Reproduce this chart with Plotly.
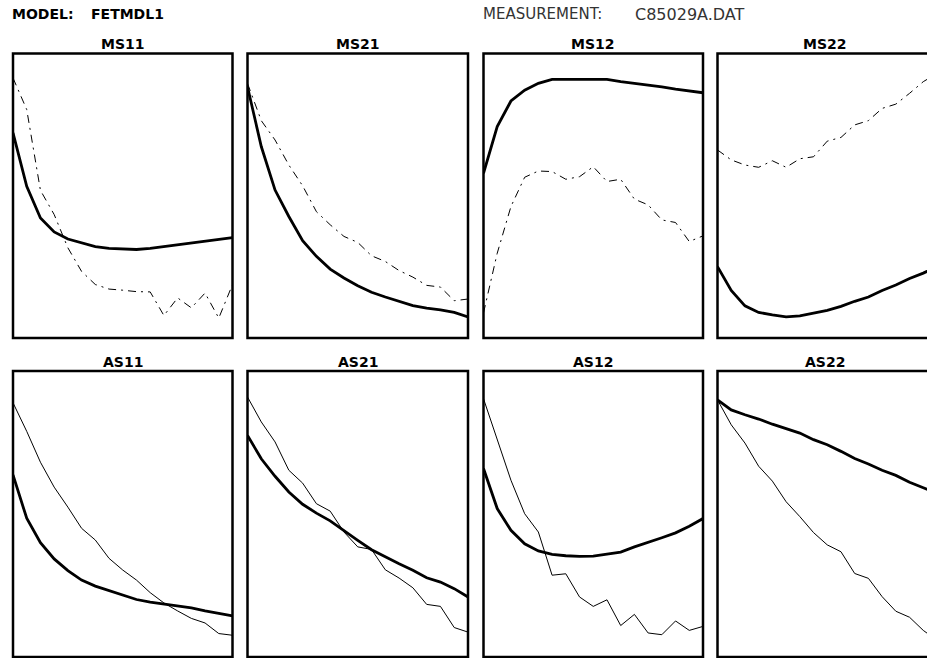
import plotly.graph_objects as go

# ---- data (frequency points, 2..18 GHz) ----
freq = [2, 3, 4, 5, 6, 7, 8, 9, 10, 11, 12, 13, 14, 15, 16, 17, 18]

panel_titles = ["MS11", "MS21", "MS12", "MS22", "AS11", "AS21", "AS12", "AS22"]

# normalized values (percent of panel height)
model_ms11 = [72.1, 53.3, 42.2, 37.3, 34.8, 33.4, 32.1, 31.5, 31.2, 31.1, 31.5, 32.1, 32.7, 33.3, 34.0, 34.6, 35.3]
meas_ms11 = [91.4, 80.3, 51.9, 43.4, 31.7, 23.4, 18.8, 17.2, 16.8, 16.3, 16.2, 7.9, 14.1, 10.6, 15.8, 7.0, 18.8]

model_ms21 = [88.3, 67.3, 52.0, 42.7, 34.2, 28.7, 24.2, 21.1, 18.4, 16.1, 14.4, 12.9, 11.4, 10.5, 9.9, 9.0, 7.4]
meas_ms21 = [89.5, 76.4, 69.6, 60.8, 53.5, 44.4, 39.8, 35.7, 33.6, 28.9, 26.9, 23.7, 21.4, 18.5, 17.9, 13.1, 13.7]

model_ms12 = [57.9, 74.3, 83.3, 87.1, 89.5, 90.9, 90.9, 90.9, 90.9, 90.9, 90.1, 89.5, 89.1, 88.3, 87.5, 86.8, 86.2]
meas_ms12 = [8.8, 29.8, 46.2, 56.5, 58.7, 58.5, 55.8, 56.7, 60.2, 55.0, 55.8, 48.8, 46.8, 41.5, 40.6, 33.9, 35.9]

model_ms22 = [25.1, 16.7, 11.3, 9.0, 8.1, 7.4, 7.8, 8.8, 9.7, 11.1, 12.9, 14.4, 16.7, 18.6, 20.9, 22.8, 25.1]
meas_ms22 = [66.1, 62.6, 60.8, 60.0, 62.3, 60.0, 63.0, 63.7, 69.2, 70.5, 74.9, 76.4, 80.7, 82.2, 86.0, 90.1, 93.0]

model_as11 = [63.7, 48.5, 40.0, 34.3, 30.2, 26.9, 24.8, 23.2, 21.6, 20.1, 19.2, 18.5, 17.9, 17.2, 16.1, 15.2, 14.4]
meas_as11 = [88.9, 78.9, 68.1, 59.4, 52.4, 45.0, 40.9, 34.5, 30.4, 26.9, 22.5, 18.9, 16.1, 13.5, 11.9, 8.2, 7.6]

model_as21 = [77.5, 69.3, 63.2, 57.7, 53.4, 50.3, 47.6, 44.1, 40.8, 37.5, 35.0, 32.6, 30.3, 27.7, 26.2, 23.9, 21.0]
meas_as21 = [90.9, 82.2, 75.2, 65.3, 60.8, 53.6, 51.0, 43.7, 38.5, 37.6, 30.5, 27.6, 24.2, 18.4, 17.7, 10.3, 8.7]

model_as12 = [65.9, 51.9, 44.3, 39.6, 37.1, 35.9, 35.4, 35.2, 35.3, 35.9, 36.7, 38.5, 40.0, 41.7, 43.4, 45.7, 48.4]
meas_as12 = [90.3, 76.3, 61.8, 50.1, 43.7, 28.6, 29.1, 21.0, 17.7, 20.0, 11.0, 14.9, 8.4, 7.8, 12.6, 9.3, 10.7]

model_as22 = [89.9, 86.4, 84.7, 83.2, 81.4, 79.8, 78.3, 76.0, 74.2, 71.9, 69.4, 67.5, 65.3, 63.5, 61.1, 59.2, 57.1]
meas_as22 = [89.9, 81.2, 74.8, 66.7, 61.5, 54.3, 49.1, 43.5, 39.2, 36.8, 29.2, 27.5, 21.1, 16.0, 13.9, 9.3, 5.8]

models = [model_ms11, model_ms21, model_ms12, model_ms22, model_as11, model_as21, model_as12, model_as22]
meass = [meas_ms11, meas_ms21, meas_ms12, meas_ms22, meas_as11, meas_as21, meas_as12, meas_as22]

# ---- layout geometry (pixels) ----
W, H = 927, 658
cols = [(13, 232.5), (247.5, 468), (483.5, 703), (717.5, 937)]
rows = [(53.5, 338), (371, 657)]

fig = go.Figure()
shapes = []
annotations = []

for i in range(8):
    r, c = divmod(i, 4)
    x0, x1 = cols[c]
    y0, y1 = rows[r]
    n = i + 1
    xa = "x" if n == 1 else f"x{n}"
    ya = "y" if n == 1 else f"y{n}"
    dom_x1 = min(x1, W) / W
    # visible part of x range (last column is cut by the page edge)
    frac = (min(x1, W) - x0) / (x1 - x0)
    xr = [freq[0], freq[0] + (freq[-1] - freq[0]) * frac]
    axis_common = dict(showticklabels=False, showgrid=False, zeroline=False,
                       showline=False, ticks="", fixedrange=True)
    fig.layout[f"xaxis{'' if n == 1 else n}"] = dict(domain=[x0 / W, dom_x1], range=xr,
                                                     anchor=ya, **axis_common)
    fig.layout[f"yaxis{'' if n == 1 else n}"] = dict(domain=[1 - y1 / H, 1 - y0 / H], range=[0, 100],
                                                     anchor=xa, **axis_common)
    # measurement (thin)
    fig.add_trace(go.Scatter(x=freq, y=meass[i], xaxis=xa, yaxis=ya, mode="lines",
                             line=dict(color="black", width=1,
                                       dash="8px,5px,2px,5px" if r == 0 else "solid"),
                             showlegend=False, hoverinfo="skip"))
    # model (thick)
    fig.add_trace(go.Scatter(x=freq, y=models[i], xaxis=xa, yaxis=ya, mode="lines",
                             line=dict(color="black", width=2.8),
                             showlegend=False, hoverinfo="skip"))
    shapes.append(dict(type="rect", xref="paper", yref="paper",
                       x0=x0 / W, x1=x1 / W, y0=1 - y1 / H, y1=1 - y0 / H,
                       line=dict(color="black", width=2.5), layer="above"))
    annotations.append(dict(text=f"<b>{panel_titles[i]}</b>", xref="paper", yref="paper",
                            x=(x0 + x1) / 2 / W if c < 3 else 825 / W,
                            y=1 - (y0 - 9) / H, xanchor="center", yanchor="middle",
                            showarrow=False, font=dict(family="DejaVu Sans", size=14, color="black")))

hdr_y = 1 - 14 / H
annotations.append(dict(text="<b>MODEL:</b>", xref="paper", yref="paper",
                        x=10 / W, y=hdr_y, xanchor="left", yanchor="middle", showarrow=False,
                        font=dict(family="DejaVu Sans", size=14, color="black")))
annotations.append(dict(text="<b>FETMDL1</b>", xref="paper", yref="paper",
                        x=89 / W, y=hdr_y, xanchor="left", yanchor="middle", showarrow=False,
                        font=dict(family="DejaVu Sans", size=14, color="black")))
annotations.append(dict(text="MEASUREMENT:", xref="paper", yref="paper",
                        x=481 / W, y=hdr_y, xanchor="left", yanchor="middle", showarrow=False,
                        font=dict(family="DejaVu Sans", size=15, color="#333")))
annotations.append(dict(text="C85029A.DAT", xref="paper", yref="paper",
                        x=633 / W, y=hdr_y, xanchor="left", yanchor="middle", showarrow=False,
                        font=dict(family="DejaVu Sans", size=16, color="#333")))

fig.update_layout(width=W, height=H, margin=dict(l=0, r=0, t=0, b=0),
                  paper_bgcolor="white", plot_bgcolor="white",
                  shapes=shapes, annotations=annotations, showlegend=False)

fig.write_html("out.html", config={"displayModeBar": False})
